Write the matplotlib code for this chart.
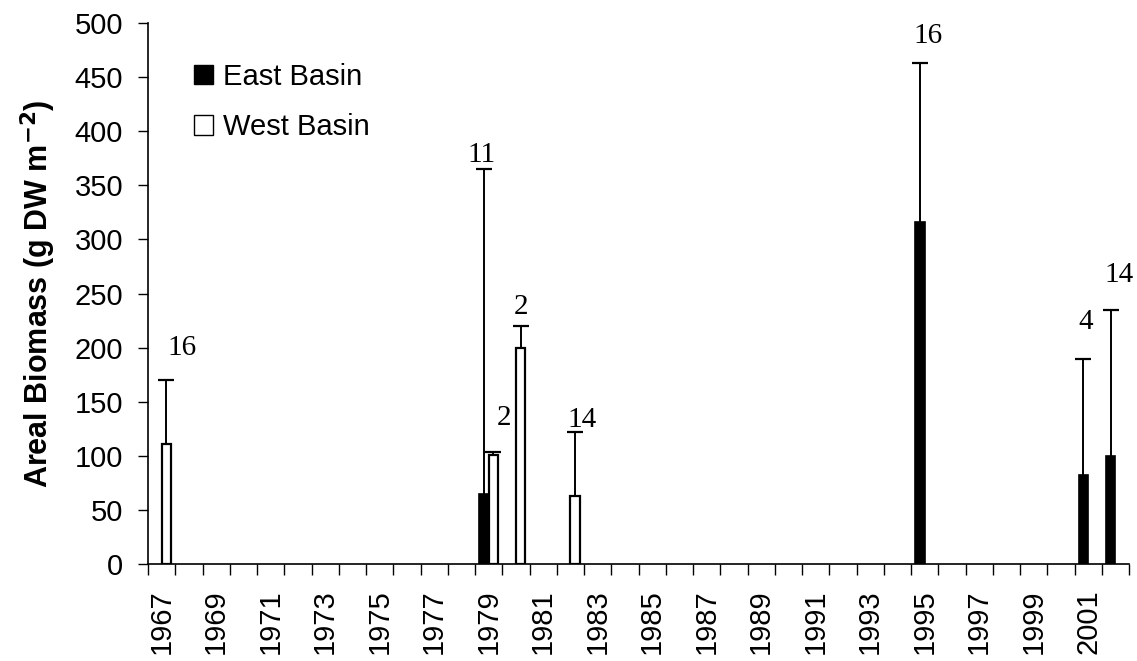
import matplotlib
matplotlib.use("Agg")
import matplotlib.pyplot as plt
from matplotlib.patches import Patch
import numpy as np

years = list(range(1967, 2003))

# East Basin: year, mean, upper error
east_years = [1979, 1995, 2001, 2002]
east_mean = [65, 316, 83, 100]
east_err = [300, 147, 107, 135]
east_n = ["11", "16", "4", "14"]

# West Basin
west_years = [1967, 1979, 1980, 1982]
west_mean = [111, 101, 200, 63]
west_err = [59, 2.5, 20, 59]
west_n = ["16", "2", "2", "14"]

# sample-size label placement (x shift in categories, y centre)
east_lab_dx = [-0.07, 0.3, 0.07, 0.3]
east_lab_y = [378, 488, 224, 267]
west_lab_dx = [0.57, 0.37, 0.0, 0.26]
west_lab_y = [200, 135, 238, 133]

plt.rcParams['font.family'] = ['Liberation Sans', 'DejaVu Sans']

fig = plt.figure(figsize=(11.37, 6.61), dpi=100)
ax = fig.add_axes([0.1302, 0.146, 0.993 - 0.1302, 0.9657 - 0.146])

w = 0.35
ex = np.array([years.index(y) for y in east_years]) - w / 2
wx = np.array([years.index(y) for y in west_years]) + w / 2

ax.bar(ex, east_mean, width=w, color='black', edgecolor='black', linewidth=1.2)
ax.bar(wx, west_mean, width=w, color='white', edgecolor='black', linewidth=1.6)


def upper_errorbar(x, y, err):
    # only the positive half, with a cap on top
    eb = ax.errorbar(x, y, yerr=[np.zeros(len(x)), err], fmt='none',
                     ecolor='black', elinewidth=1.4, capsize=5.5, capthick=1.6)
    eb[1][0].set_visible(False)


upper_errorbar(ex, east_mean, east_err)
upper_errorbar(wx, west_mean, west_err)

for x, dx, y, s in zip(ex, east_lab_dx, east_lab_y, east_n):
    ax.text(x + dx, y, s, ha='center', va='center', fontsize=21,
            family='Liberation Serif')
for x, dx, y, s in zip(wx, west_lab_dx, west_lab_y, west_n):
    ax.text(x + dx, y, s, ha='center', va='center', fontsize=21,
            family='Liberation Serif')

ax.set_xlim(-0.5, len(years) - 0.5)
ax.set_ylim(0, 500)
ax.set_yticks(range(0, 501, 50))
ax.tick_params(axis='y', labelsize=21, length=7, width=1, direction='out', pad=11)

# category boundaries as ticks, every other year labelled
ax.set_xticks(np.arange(-0.5, len(years), 1.0))
ax.set_xticklabels([])
ax.set_xticks(np.arange(0, len(years), 2), minor=True)
ax.set_xticklabels([str(y) for y in years[::2]], minor=True, rotation=90,
                   fontsize=21)
ax.tick_params(axis='x', which='major', length=8, width=1, direction='out')
ax.tick_params(axis='x', which='minor', length=0, pad=18)

for side in ['top', 'right']:
    ax.spines[side].set_visible(False)
for side in ['left', 'bottom']:
    ax.spines[side].set_linewidth(1.2)

ax.set_ylabel('Areal Biomass (g DW m$^{\\mathbf{-2}}$)', fontsize=22,
              fontweight='bold', labelpad=12)

handles = [Patch(facecolor='black', edgecolor='black', label='East Basin'),
           Patch(facecolor='white', edgecolor='black', label='West Basin')]
ax.legend(handles=handles, loc='upper left', bbox_to_anchor=(0.035, 0.948),
          frameon=False, fontsize=21, handlelength=0.65, handleheight=0.65,
          handletextpad=0.35, labelspacing=0.78, borderaxespad=0)

fig.savefig('out.png', dpi=100)
